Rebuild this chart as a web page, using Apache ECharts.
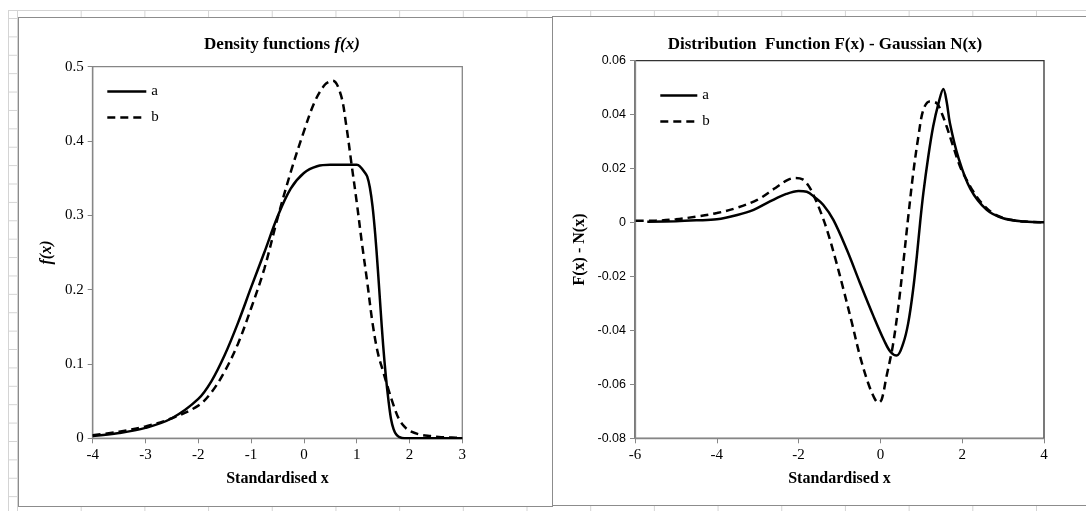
<!DOCTYPE html>
<html>
<head>
<meta charset="utf-8">
<script src="https://cdn.jsdelivr.net/npm/echarts@6/dist/echarts.min.js"></script>
<style>
  html, body { margin: 0; padding: 0; width: 1086px; height: 511px; overflow: hidden; background: #fff; }
  #sheet { position: absolute; left: 8px; top: 10px; right: 0; bottom: 0;
    border-left: 1px solid #d4d4d4; border-top: 1px solid #d4d4d4;
    background-image:
      linear-gradient(to right, #d4d4d4 1px, transparent 1px),
      linear-gradient(to bottom, #d4d4d4 1px, transparent 1px);
    background-size: 63.7px 100%, 100% 18.4px;
    background-position: 8px 0, 0 7px; }
  .frame { position: absolute; box-sizing: border-box; background: #fff; border: 1.5px solid #8c8c8c; }
  #f1 { left: 18px; top: 17px; width: 535px; height: 490px; }
  #f2 { left: 552px; top: 16px; width: 560px; height: 490px; }
  #chart { position: absolute; left: 0; top: 0; width: 1086px; height: 511px; }
</style>
</head>
<body>
<div id="sheet"></div>
<div class="frame" id="f1"></div>
<div class="frame" id="f2"></div>
<div id="chart"></div>
<script>
// ---- Left chart: density functions f(x) ----
const leftXTicks = [-4, 3, 1];         // min, max, interval
const leftYTicks = [0, 0.5, 0.1];
const densAX = [-4.0, -3.5, -3.0, -2.5, -2.0, -1.75, -1.5, -1.25, -1.0, -0.75, -0.5, -0.25, 0.0, 0.25, 0.5, 0.75, 1.0, 1.06, 1.15, 1.2, 1.25, 1.3, 1.35, 1.4, 1.45, 1.5, 1.55, 1.6, 1.65, 1.7, 1.75, 1.8, 1.9, 2.0, 2.5, 3.0];
const densAY = [0.003, 0.007, 0.014, 0.027, 0.053, 0.077, 0.112, 0.155, 0.203, 0.250, 0.298, 0.336, 0.357, 0.366, 0.368, 0.368, 0.368, 0.366, 0.358, 0.352, 0.337, 0.312, 0.275, 0.228, 0.176, 0.126, 0.085, 0.052, 0.026, 0.012, 0.005, 0.002, 0.0, 0.0, 0.0, 0.0];
const densBX = [-4.0, -3.5, -3.0, -2.5, -2.0, -1.75, -1.5, -1.25, -1.0, -0.75, -0.5, -0.25, 0.0, 0.2, 0.4, 0.55, 0.7, 0.8, 0.9, 1.0, 1.1, 1.2, 1.3, 1.4, 1.5, 1.6, 1.7, 1.8, 1.9, 2.0, 2.2, 2.4, 2.6, 2.8, 3.0];
const densBY = [0.004, 0.009, 0.016, 0.027, 0.044, 0.062, 0.090, 0.127, 0.175, 0.228, 0.296, 0.358, 0.413, 0.452, 0.476, 0.481, 0.462, 0.422, 0.370, 0.318, 0.262, 0.210, 0.155, 0.115, 0.090, 0.066, 0.044, 0.026, 0.016, 0.010, 0.005, 0.003, 0.0015, 0.001, 0.0005];

// ---- Right chart: F(x) - N(x) ----
const rightXTicks = [-6, 4, 2];
const rightYTicks = [-0.08, 0.06, 0.02];
const diffAX = [-5.7, -5.0, -4.5, -4.0, -3.5, -3.1, -2.7, -2.3, -2.0, -1.8, -1.6, -1.4, -1.15, -0.82, -0.5, -0.17, 0.1, 0.25, 0.4, 0.56, 0.68, 0.8, 0.89, 0.97, 1.05, 1.17, 1.29, 1.42, 1.54, 1.62, 1.70, 1.9, 2.2, 2.6, 3.0, 3.5, 4.0];
const diffAY = [0.0003, 0.0005, 0.0008, 0.0012, 0.0028, 0.0047, 0.0078, 0.0106, 0.0117, 0.0114, 0.0093, 0.0066, 0.001, -0.0101, -0.0224, -0.0347, -0.0440, -0.0480, -0.0493, -0.0447, -0.0373, -0.0249, -0.0126, -0.0002, 0.0109, 0.0244, 0.0356, 0.0442, 0.0495, 0.0448, 0.0368, 0.0244, 0.0125, 0.0047, 0.0016, 0.0004, 0.0001];
const diffBX = [-6.3, -5.5, -5.0, -4.5, -4.0, -3.5, -3.0, -2.6, -2.3, -2.1, -1.9, -1.75, -1.6, -1.45, -1.3, -1.1, -0.9, -0.7, -0.5, -0.3, -0.15, -0.05, 0.03, 0.15, 0.3, 0.44, 0.56, 0.68, 0.8, 0.93, 1.05, 1.2, 1.38, 1.5, 1.62, 1.78, 1.95, 2.11, 2.27, 2.5, 2.8, 3.2, 3.6, 4.0];
const diffBY = [0.0006, 0.0007, 0.0012, 0.0022, 0.0035, 0.0055, 0.0085, 0.0125, 0.0155, 0.0165, 0.0160, 0.0135, 0.0090, 0.0035, -0.0030, -0.0135, -0.0250, -0.0370, -0.0495, -0.0595, -0.0650, -0.0668, -0.0657, -0.0570, -0.0460, -0.0310, -0.0150, 0.0020, 0.0180, 0.0320, 0.0418, 0.0449, 0.0442, 0.0405, 0.0356, 0.0282, 0.0207, 0.0158, 0.0115, 0.0068, 0.0030, 0.0010, 0.0003, 0.0001];

const seriesNames = ['a', 'b'];
const zip = (xs, ys) => xs.map((x, i) => [x, ys[i]]);

const SERIF = '"Liberation Serif", "Times New Roman", serif';
const SANS = '"Liberation Sans", Arial, sans-serif';
const AXC = '#868686';
const solid = { color: '#000', width: 2.5, type: 'solid' };
const dashed = { color: '#000', width: 2.5, type: [8, 5] };

function xAxisCfg(grid, t, labelFont, labelSize) {
  return {
    type: 'value', gridIndex: grid, min: t[0], max: t[1], interval: t[2],
    name: 'Standardised x', nameLocation: 'middle', nameGap: 33,
    nameTextStyle: { fontFamily: SERIF, fontWeight: 'bold', fontSize: 16, color: '#000' },
    axisLine: { onZero: false, lineStyle: { color: AXC, width: 1.3 } },
    axisTick: { show: true, length: 5, lineStyle: { color: AXC } },
    axisLabel: { fontFamily: labelFont, fontSize: labelSize, color: '#000', margin: 9 },
    splitLine: { show: false }
  };
}
function yAxisCfg(grid, t, name, nameStyle, gap, labelFont, labelSize) {
  return {
    type: 'value', gridIndex: grid, min: t[0], max: t[1], interval: t[2],
    name: name, nameLocation: 'middle', nameGap: gap,
    nameTextStyle: Object.assign({ color: '#000', fontSize: 16 }, nameStyle),
    axisLine: { show: true, onZero: false, lineStyle: { color: AXC, width: 1.3 } },
    axisTick: { show: true, length: 5, lineStyle: { color: AXC } },
    axisLabel: { fontFamily: labelFont, fontSize: labelSize, color: '#000', margin: 9 },
    splitLine: { show: false }
  };
}
function lineSeries(name, xi, xs, ys, style, z, extra) {
  return Object.assign({
    name: name, type: 'line', xAxisIndex: xi, yAxisIndex: xi, data: zip(xs, ys),
    symbol: 'none', smooth: 0.35, lineStyle: style, itemStyle: { color: '#000' }, z: z
  }, extra || {});
}
const legendCommon = {
  data: seriesNames, orient: 'vertical', itemHeight: 14, itemGap: 11, padding: 0, selectedMode: false,
  itemStyle: { opacity: 0 }, lineStyle: { width: 2.6 },
  textStyle: { fontFamily: SERIF, fontSize: 15, color: '#000' }
};

const option = {
  animation: false,
  backgroundColor: 'transparent',
  title: [
    { text: '{n|Density functions }{i|f(x)}', left: 277, top: 31, textAlign: 'center',
      textStyle: { rich: {
        n: { fontFamily: SERIF, fontWeight: 'bold', fontSize: 17, color: '#000' },
        i: { fontFamily: SERIF, fontWeight: 'bold', fontStyle: 'italic', fontSize: 17, color: '#000' } } } },
    { text: 'Distribution  Function F(x) - Gaussian N(x)', left: 820, top: 31, textAlign: 'center',
      textStyle: { fontFamily: SERIF, fontWeight: 'bold', fontSize: 17, color: '#000' } }
  ],
  legend: [
    Object.assign({ left: 106, top: 84, itemWidth: 39 }, legendCommon),
    Object.assign({ left: 659, top: 88, itemWidth: 37 }, legendCommon)
  ],
  grid: [
    { left: 92.7, top: 66.7, width: 369.6, height: 371.6, show: true, borderColor: AXC, borderWidth: 1.3, backgroundColor: 'transparent' },
    { left: 635, top: 60.7, width: 409, height: 377.6, show: true, borderColor: '#333', borderWidth: 1.3, backgroundColor: 'transparent' }
  ],
  xAxis: [
    xAxisCfg(0, leftXTicks, SERIF, 15),
    xAxisCfg(1, rightXTicks, SERIF, 15)
  ],
  yAxis: [
    yAxisCfg(0, leftYTicks, 'f(x)', { fontFamily: SERIF, fontStyle: 'italic', fontWeight: 'bold' }, 38, SERIF, 15),
    yAxisCfg(1, rightYTicks, 'F(x) - N(x)', { fontFamily: SERIF, fontWeight: 'bold' }, 47, SANS, 12.5)
  ],
  series: [
    lineSeries(seriesNames[0], 0, densAX, densAY, solid, 3),
    lineSeries(seriesNames[1], 0, densBX, densBY, dashed, 2),
    lineSeries(seriesNames[0], 1, diffAX, diffAY, solid, 3),
    lineSeries(seriesNames[1], 1, diffBX, diffBY, dashed, 2, { clip: false })
  ]
};

const chart = echarts.init(document.getElementById('chart'), null, { renderer: 'canvas' });
chart.setOption(option);
</script>
</body>
</html>
